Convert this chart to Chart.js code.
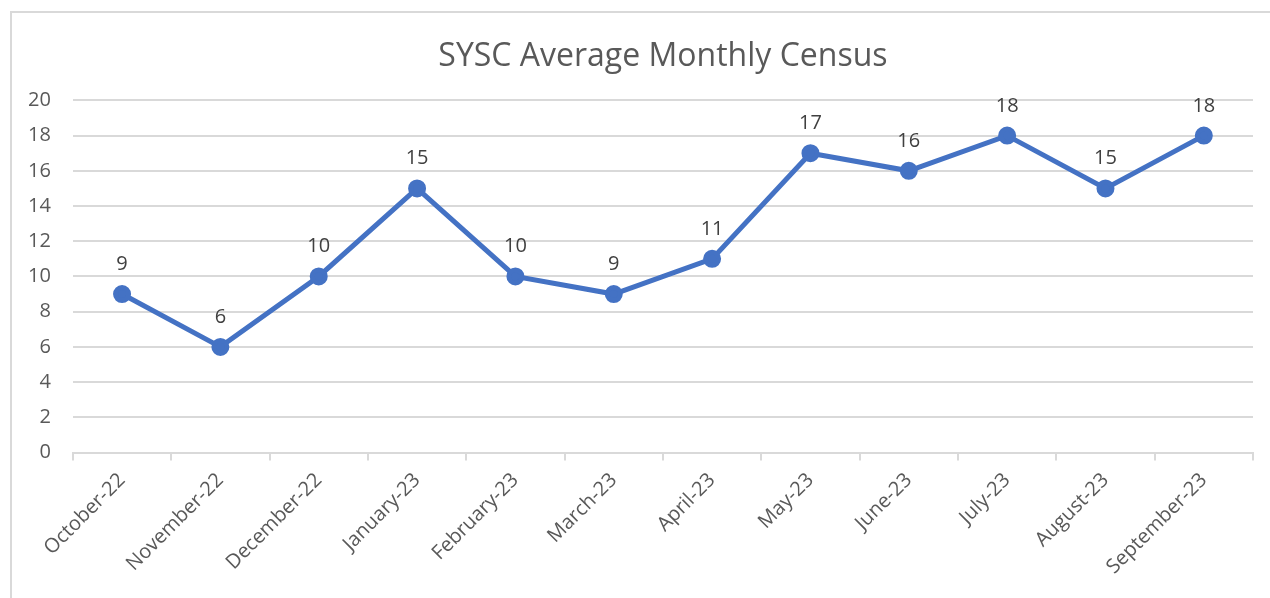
<!DOCTYPE html>
<html>
<head>
<meta charset="utf-8">
<script src="https://cdn.jsdelivr.net/npm/chart.js@4.4.0/dist/chart.umd.min.js"></script>
<style>
    html, body { margin: 0; padding: 0; background: #fff; overflow: hidden; }
    #frame {
        position: absolute; left: 10px; top: 11px;
        width: 1300px; height: 640px;
        border-left: 2px solid #d9d9d9; border-top: 2px solid #d9d9d9;
    }
    #wrap { position: absolute; left: 0; top: 0; width: 1270px; height: 598px; }
</style>
</head>
<body>
<div id="frame"></div>
<div id="wrap"><canvas id="census-chart"></canvas></div>
<script>
const months = ['October-22', 'November-22', 'December-22', 'January-23', 'February-23', 'March-23',
    'April-23', 'May-23', 'June-23', 'July-23', 'August-23', 'September-23'];
const censusValues = [9, 6, 10, 15, 10, 9, 11, 17, 16, 18, 15, 18];
const chartTitle = 'SYSC Average Monthly Census';

const FONT = "'Open Sans', 'Liberation Sans', sans-serif";
const TEXT_COLOR = '#595959';

// draws the value above each point
const valueLabels = {
    id: 'valueLabels',
    afterDatasetsDraw(chart) {
        const ctx = chart.ctx;
        const meta = chart.getDatasetMeta(0);
        ctx.save();
        ctx.font = '20px ' + FONT;
        ctx.fillStyle = '#404040';
        ctx.textAlign = 'center';
        ctx.textBaseline = 'alphabetic';
        meta.data.forEach((pt, i) => {
            ctx.fillText(censusValues[i], pt.x, pt.y - 24);
        });
        ctx.restore();
    }
};

const ctx = document.getElementById('census-chart').getContext('2d');
new Chart(ctx, {
    type: 'line',
    data: {
        labels: months,
        datasets: [{
            label: 'Census',
            data: censusValues,
            borderColor: '#4472c4',
            backgroundColor: '#4472c4',
            borderWidth: 5,
            pointRadius: 6.5,
            pointHoverRadius: 6.5,
            fill: false,
            tension: 0
        }]
    },
    options: {
        responsive: true,
        maintainAspectRatio: false,
        animation: false,
        layout: { padding: { left: 6, right: 17, top: 38, bottom: 11 } },
        plugins: {
            legend: { display: false },
            tooltip: { enabled: false },
            title: {
                display: true,
                text: chartTitle,
                fullSize: false,
                color: TEXT_COLOR,
                font: { family: FONT, size: 32, weight: 'normal' },
                padding: { top: 0, bottom: 24 }
            }
        },
        scales: {
            x: {
                offset: true,
                grid: {
                    offset: true,
                    drawOnChartArea: false,
                    drawTicks: true,
                    tickLength: 8,
                    color: '#d9d9d9',
                    lineWidth: 2
                },
                border: { color: '#d9d9d9', width: 2 },
                ticks: {
                    color: TEXT_COLOR,
                    font: { family: FONT, size: 20 },
                    minRotation: 45,
                    maxRotation: 45,
                    padding: 8
                }
            },
            y: {
                min: 0,
                max: 20,
                ticks: {
                    stepSize: 2,
                    color: TEXT_COLOR,
                    font: { family: FONT, size: 20 },
                    padding: 22
                },
                grid: { color: '#d9d9d9', lineWidth: 2, drawTicks: false },
                border: { display: false }
            }
        }
    },
    plugins: [valueLabels]
});
</script>
</body>
</html>
